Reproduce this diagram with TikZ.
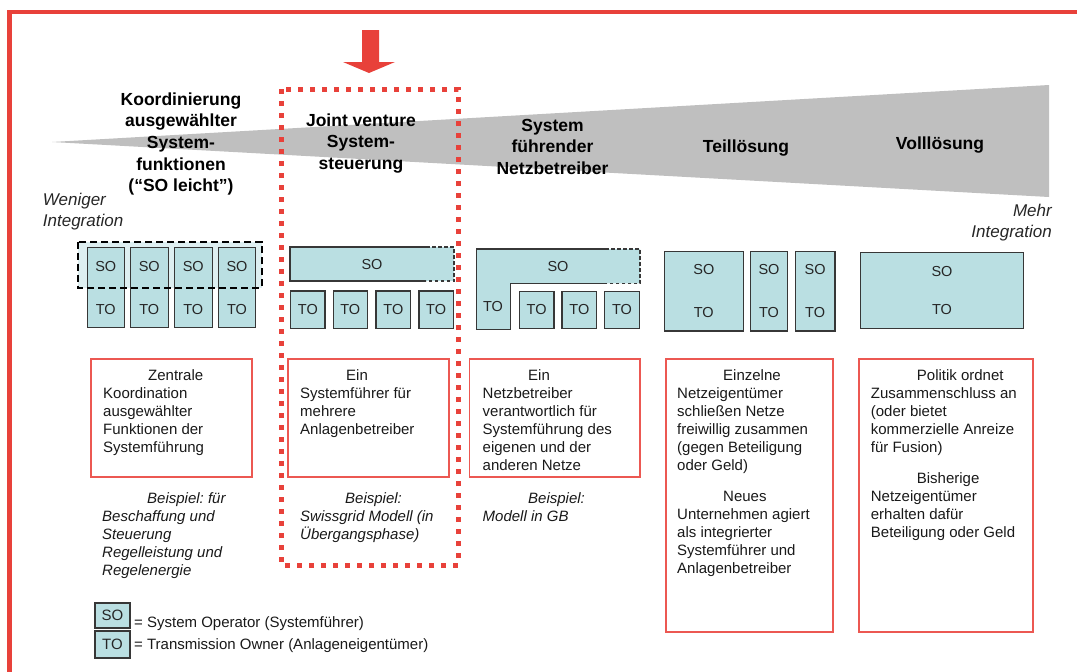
\documentclass[tikz,border=0pt]{standalone}
\usepackage{fontspec}
\setmainfont{Liberation Sans}
\AtBeginDocument{\frenchspacing}
\definecolor{framered}{RGB}{232,65,58}
\definecolor{wedgegray}{RGB}{191,191,191}
\definecolor{cellfill}{RGB}{186,223,226}
\definecolor{cellline}{RGB}{55,55,55}
\definecolor{hazefill}{RGB}{222,239,241}
\definecolor{noteline}{RGB}{236,88,82}
% rectangle node from its corner coordinates: [style]{x1}{y1}{x2}{y2}{name}
\newcommand\rectnode[6][]{%
  \node[#1, minimum width={(#4-#2)*1pt}, minimum height={(#5-#3)*1pt}]
    (#6) at ({(#2+#4)/2},{(#3+#5)/2}) {};}
\begin{document}
\begin{tikzpicture}[x=1pt,y=-1pt,
  cellbox/.style={draw=cellline, line width=1.1pt, fill=cellfill, inner sep=0pt, outer sep=0pt},
  notebox/.style={draw=noteline, line width=1.2pt, inner sep=0pt, outer sep=0pt},
  celltext/.style={font=\fontsize{14.5}{17}\selectfont, inner sep=0pt, text=black!85},
  toplabel/.style={font=\fontsize{17.5}{21.7}\selectfont\bfseries, align=center, anchor=base, inner sep=0pt},
  sidelabel/.style={font=\fontsize{17}{21.5}\selectfont\itshape, inner sep=0pt, text=black!85},
  notetext/.style={font=\fontsize{15}{18.1}\selectfont, align=left, anchor=base west, inner sep=0pt, text=black!90},
  exampletext/.style={font=\fontsize{15}{18.1}\selectfont\itshape, align=left, anchor=base west, inner sep=0pt, text=black!90},
  legendtext/.style={font=\fontsize{15}{18}\selectfont, anchor=base west, inner sep=0pt, text=black!90},
  dashedline/.style={line width=1.1pt, dash pattern=on 3.5pt off 2.5pt, cellline},
  solidline/.style={line width=1.1pt, cellline}]
\useasboundingbox (0,0) rectangle (1077,672);
\clip (0,0) rectangle (1077,672);

% outer frame
\draw[framered, line width=4.5pt] (9.5,12) rectangle (1100,700);

% integration wedge
\fill[wedgegray] (52,142) -- (1049,85) -- (1049,197) -- cycle;

% pointer arrow
\fill[framered] (362,30) -- (379,30) -- (379,62) -- (395,62) -- (369,73) -- (343,62) -- (362,62) -- cycle;

% highlighted option
\draw[framered, line width=5pt, dash pattern=on 5pt off 7pt] (281,89) rectangle (458,565);

% headings (multi-line nodes are anchored at the baseline of their last line)
\node[toplabel] (hkoord) at (181,191.8) {Koordinierung\\ausgewählter\\System-\\funktionen\\(“SO leicht”)};
\node[toplabel] (hjoint) at (361,169.4) {Joint venture\\System-\\steuerung};
\node[toplabel] (hnetz) at (552.5,174.4) {System\\führender\\Netzbetreiber};
\node[toplabel] (hteil) at (746,152) {Teillösung};
\node[toplabel] (hvoll) at (940,149) {Volllösung};
\node[sidelabel, align=left, anchor=base west] (less) at (42.7,226.5) {Weniger\\Integration};
\node[sidelabel, align=right, anchor=base east] (more) at (1052,237.5) {Mehr\\Integration};

% group 1: coordination of selected functions
\fill[hazefill] (78.3,241.7) rectangle (261.7,287.7);
\rectnode[cellbox]{87.3}{247.7}{124.3}{327.7}{gA1}
\rectnode[cellbox]{130.3}{247.7}{168.3}{327.7}{gA2}
\rectnode[cellbox]{174.3}{247.7}{212.3}{327.7}{gA3}
\rectnode[cellbox]{218.3}{247.7}{255.7}{327.7}{gA4}
\foreach \c in {1,2,3,4}{
  \node[celltext] (gA\c so) at ([yshift=-19.3pt]gA\c.north) {SO};
  \node[celltext] (gA\c to) at ([yshift=17.7pt]gA\c.south) {TO};
}
\draw[black, line width=2.3pt, dash pattern=on 7pt off 4pt] (78.3,241.7) rectangle (261.7,287.7);

% group 2: joint venture
\fill[cellfill] (290,247) rectangle (454,281);
\draw[solidline] (426,247) -- (290,247) -- (290,281) -- (426,281);
\draw[dashedline] (426,247) -- (454,247) -- (454,281) -- (426,281);
\node[celltext] (gBso) at (372,265) {SO};
\rectnode[cellbox]{290.7}{291}{325}{328.3}{gB1}
\rectnode[cellbox]{333.3}{291}{367.3}{328.3}{gB2}
\rectnode[cellbox]{376}{291}{410.7}{328.3}{gB3}
\rectnode[cellbox]{419}{291}{453.3}{328.3}{gB4}
\foreach \c in {1,2,3,4}{
  \node[celltext] (gB\c to) at (gB\c) {TO};
}

% group 3: leading network operator
\fill[cellfill] (476.7,249) -- (640,249) -- (640,283.3) -- (510.7,283.3) -- (510.7,329.3) -- (476.7,329.3) -- cycle;
\draw[solidline] (605,249) -- (476.7,249) -- (476.7,329.3) -- (510.7,329.3) -- (510.7,283.3) -- (605,283.3);
\draw[dashedline] (605,249) -- (640,249) -- (640,283.3) -- (605,283.3);
\node[celltext] (gCso) at (558,267) {SO};
\node[celltext] (gCto) at (493,307) {TO};
\rectnode[cellbox]{519.3}{291.7}{554}{328.3}{gC1}
\rectnode[cellbox]{562}{291.7}{596.7}{328.3}{gC2}
\rectnode[cellbox]{604.7}{291.7}{639.3}{328.3}{gC3}
\foreach \c in {1,2,3}{
  \node[celltext] (gC\c to) at (gC\c) {TO};
}

% group 4: partial solution
\rectnode[cellbox]{664.3}{251.7}{743.3}{331}{gD1}
\rectnode[cellbox]{750.7}{251.7}{787.3}{331}{gD2}
\rectnode[cellbox]{795.3}{251.7}{835}{331}{gD3}
\foreach \c in {1,2,3}{
  \node[celltext] (gD\c so) at ([yshift=-18.3pt]gD\c.north) {SO};
  \node[celltext] (gD\c to) at ([yshift=18.3pt]gD\c.south) {TO};
}

% group 5: full solution
\rectnode[cellbox]{860.7}{252.3}{1023.3}{328.3}{gE}
\node[celltext] (gEso) at (942,271.7) {SO};
\node[celltext] (gEto) at (942,310) {TO};

% description boxes
\rectnode[notebox]{91}{359}{252}{477}{nA}
\rectnode[notebox]{288}{359}{449}{477}{nB}
\rectnode[notebox]{469.5}{359}{640}{477}{nC}
\rectnode[notebox]{666}{359}{833}{632}{nD}
\rectnode[notebox]{859}{359}{1033}{632}{nE}

\node[notetext] (tA) at (103,452.4) {\hspace*{45pt}Zentrale\\Koordination\\ausgewählter\\Funktionen der\\Systemführung};
\node[notetext] (tB) at (300,434.3) {\hspace*{46pt}Ein\\Systemführer für\\mehrere\\Anlagenbetreiber};
\node[notetext] (tC) at (482.5,470.5) {\hspace*{45.5pt}Ein\\Netzbetreiber\\verantwortlich für\\Systemführung des\\eigenen und der\\anderen Netze};
\node[notetext] (tD1) at (677,470.5) {\hspace*{46pt}Einzelne\\Netzeigentümer\\schließen Netze\\freiwillig zusammen\\(gegen Beteiligung\\oder Geld)};
\node[notetext] (tD2) at (677,573.4) {\hspace*{46pt}Neues\\Unternehmen agiert\\als integrierter\\Systemführer und\\Anlagenbetreiber};
\node[notetext] (tE1) at (870.7,452.4) {\hspace*{46pt}Politik ordnet\\Zusammenschluss an\\(oder bietet\\kommerzielle Anreize\\für Fusion)};
\node[notetext] (tE2) at (870.7,537.3) {\hspace*{46pt}Bisherige\\Netzeigentümer\\erhalten dafür\\Beteiligung oder Geld};

% examples
\node[exampletext] (xA) at (102,575.4) {\hspace*{45pt}Beispiel: für\\Beschaffung und\\Steuerung\\Regelleistung und\\Regelenergie};
\node[exampletext] (xB) at (300,539.2) {\hspace*{45pt}Beispiel:\\Swissgrid Modell (in\\Übergangsphase)};
\node[exampletext] (xC) at (482.5,521.1) {\hspace*{45.5pt}Beispiel:\\Modell in GB};

% legend
\rectnode[cellbox]{95}{603}{130}{628}{keySO}
\rectnode[cellbox]{95}{631}{130}{658}{keyTO}
\node[celltext, font=\fontsize{15}{18}\selectfont] (keySOt) at (keySO) {SO};
\node[celltext, font=\fontsize{15}{18}\selectfont] (keyTOt) at (keyTO) {TO};
\node[legendtext] (keySOd) at (134,627) {= System Operator (Systemführer)};
\node[legendtext] (keyTOd) at (134,649.3) {= Transmission Owner (Anlageneigentümer)};
\end{tikzpicture}
\end{document}
